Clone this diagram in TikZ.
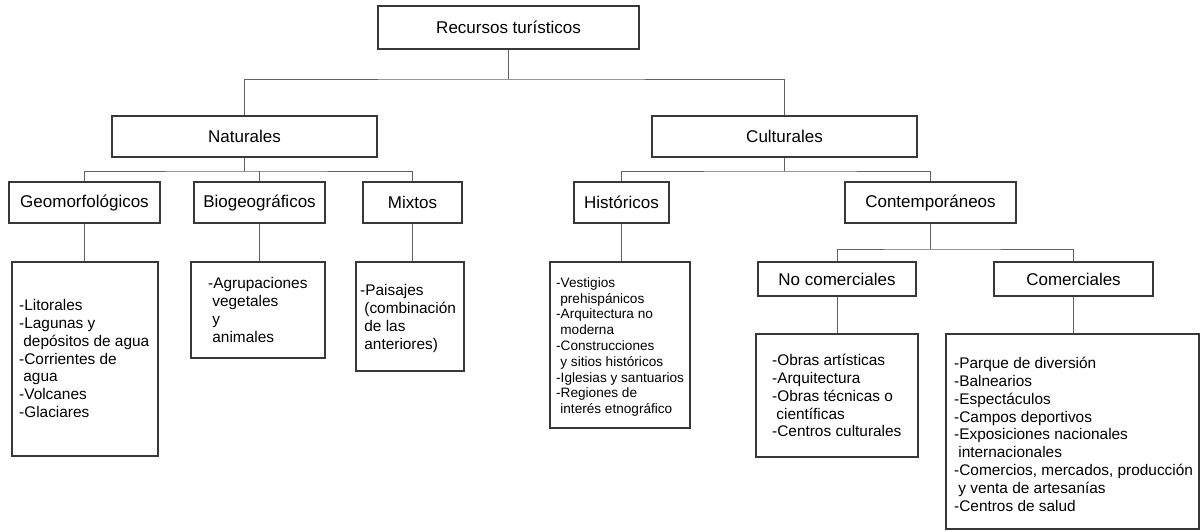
\documentclass[tikz,border=0pt]{standalone}
\usepackage{fontspec}
\setmainfont{Liberation Sans}
\newcommand\myind{\hspace*{4.2pt}}
\begin{document}
\begin{tikzpicture}[x=1pt,y=-1pt,
  box/.style={draw=black!78,line width=1.2pt,inner sep=0pt,rectangle,
    font=\fontsize{17}{20}\selectfont},
  listbox/.style={draw=black!78,line width=1.2pt,inner sep=0pt,rectangle},
  listtext/.style={anchor=north west,inner sep=0pt,align=left,
    font=\fontsize{15.4}{17.8}\selectfont},
  smalltext/.style={anchor=north west,inner sep=0pt,align=left,
    font=\fontsize{13.6}{15.8}\selectfont},
  conn/.style={draw=black!62,line width=1pt}]
\useasboundingbox (0,0) rectangle (1201,531);
% level 0
\node[box,minimum width=261pt,minimum height=43pt] (rec) at (508.5,27.5) {Recursos turísticos};
% level 1
\node[box,minimum width=265pt,minimum height=41pt] (nat) at (244.5,136.5) {Naturales};
\node[box,minimum width=265pt,minimum height=41pt] (cul) at (784.5,136.5) {Culturales};
% level 2
\node[box,minimum width=151pt,minimum height=41pt] (geo) at (84.5,202.5) {Geomorfológicos};
\node[box,minimum width=131pt,minimum height=41pt] (bio) at (259.5,202.5) {Biogeográficos};
\node[box,minimum width=99pt,minimum height=41pt] (mix) at (412.5,202.5) {Mixtos};
\node[box,minimum width=95pt,minimum height=41pt] (his) at (621.5,202.5) {Históricos};
\node[box,minimum width=171pt,minimum height=41pt] (con) at (930.5,202.5) {Contemporáneos};
% level 3
\node[box,minimum width=158pt,minimum height=34pt] (noc) at (837,279) {No comerciales};
\node[box,minimum width=159pt,minimum height=34pt] (com) at (1073.5,279) {Comerciales};
% list boxes
\node[listbox,minimum width=146pt,minimum height=194pt] (geoL) at (85,359) {};
\node[listbox,minimum width=134pt,minimum height=96pt] (bioL) at (258,310) {};
\node[listbox,minimum width=108pt,minimum height=109pt] (mixL) at (410,316.5) {};
\node[listbox,minimum width=140pt,minimum height=166pt] (hisL) at (620,345) {};
\node[listbox,minimum width=162pt,minimum height=123pt] (nocL) at (837,395.5) {};
\node[listbox,minimum width=253pt,minimum height=195pt] (comL) at (1072.5,431.5) {};
% list texts
\node[listtext] (geoT) at (19,298.5) {\rule{0pt}{12pt}-Litorales\\-Lagunas y\\\myind depósitos de agua\\-Corrientes de\\\myind agua\\-Volcanes\\-Glaciares};
\node[listtext] (bioT) at (208,276.5) {\rule{0pt}{12pt}-Agrupaciones\\\myind vegetales\\\myind y\\\myind animales};
\node[listtext] (mixT) at (360,283.5) {\rule{0pt}{12pt}-Paisajes\\\myind (combinación\\\myind de las\\\myind anteriores)};
\node[smalltext] (hisT) at (556,276) {\rule{0pt}{11pt}-Vestigios\\\myind prehispánicos\\-Arquitectura no\\\myind moderna\\-Construcciones\\\myind y sitios históricos\\-Iglesias y santuarios\\-Regiones de\\\myind interés etnográfico};
\node[listtext] (nocT) at (772,353.5) {\rule{0pt}{12pt}-Obras artísticas\\-Arquitectura\\-Obras técnicas o\\\myind científicas\\-Centros culturales};
\node[listtext] (comT) at (954,356.5) {\rule{0pt}{12pt}-Parque de diversión\\-Balnearios\\-Espectáculos\\-Campos deportivos\\-Exposiciones nacionales\\\myind internacionales\\-Comercios, mercados, producción\\\myind y venta de artesanías\\-Centros de salud};
% junctions
\coordinate (j1) at (508.5,79);
\coordinate (j2) at (244.5,171);
\coordinate (j3) at (784.5,171);
\coordinate (j4) at (930.5,249);
% connectors
\draw[conn] (rec.south) -- (j1);
\draw[conn] (nat.north) |- (j1) -| (cul.north);
\draw[conn] (nat.south) -- (j2);
\draw[conn] (geo.north) |- (j2) -| (mix.north);
\draw[conn] (bio.north) -- (bio.north |- j2);
\draw[conn] (cul.south) -- (j3);
\draw[conn] (his.north) |- (j3) -| (con.north);
\draw[conn] (con.south) -- (j4);
\draw[conn] (noc.north) |- (j4) -| (com.north);
\draw[conn] (geo.south) -- (geo.south |- geoL.north);
\draw[conn] (bio.south) -- (bio.south |- bioL.north);
\draw[conn] (mix.south) -- (mix.south |- mixL.north);
\draw[conn] (his.south) -- (his.south |- hisL.north);
\draw[conn] (noc.south) -- (noc.south |- nocL.north);
\draw[conn] (com.south) -- (com.south |- comL.north);
\end{tikzpicture}
\end{document}
